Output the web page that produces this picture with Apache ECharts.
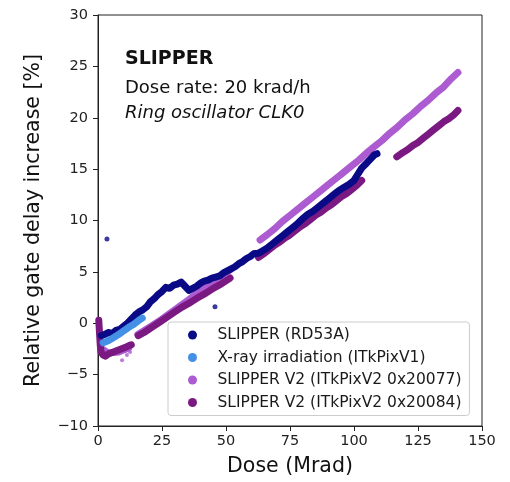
<!DOCTYPE html>
<html><head><meta charset="utf-8">
<script src="https://cdn.jsdelivr.net/npm/echarts@6/dist/echarts.min.js"></script>
<style>html,body{margin:0;padding:0;background:#fff}#c{width:510px;height:482px}</style>
</head><body><div id="c"></div>
<script>
// ---- data (dose in Mrad, relative gate delay increase in %) ----
const seriesNames = ['SLIPPER (RD53A)', 'X-ray irradiation (ITkPixV1)', 'SLIPPER V2 (ITkPixV2 0x20077)', 'SLIPPER V2 (ITkPixV2 0x20084)'];
const rd53a = [[1.3,-1.2],[2.5,-1.1],[4,-0.9],[5.5,-1.0],[7,-0.7],[8.5,-0.6],[10,-0.3],[11.5,0.0],[13,0.4],[14.5,0.8],[16,1.1],[17.5,1.3],[19,1.6],[20.5,2.1],[22,2.4],[23.5,2.8],[25,3.1],[26.5,3.5],[28,3.4],[29.5,3.7],[31,3.8],[32.5,4.0],[34,3.6],[35.5,3.2],[37,3.4],[38.5,3.6],[40,3.9],[41.5,4.1],[43,4.2],[44.5,4.4],[46,4.5],[47.5,4.6],[49,4.9],[50.5,5.1],[52,5.3],[53.5,5.5],[55,5.8],[56.5,6.0],[58,6.3],[59.5,6.5],[61,6.8],[62.5,6.8],[64,7.0],[66,7.3],[68,7.7],[70,8.1],[72,8.5],[74,8.9],[76,9.3],[78,9.7],[80,10.2],[82,10.6],[84,10.9],[86,11.3],[88,11.7],[90,12.1],[92,12.5],[94,12.9],[96,13.2],[98,13.5],[100,13.9],[101.5,14.5],[103,15.1],[105,15.6],[106.5,16.0],[108,16.4],[109,16.5]];
const rd53aOutliers = [[3.5,8.2],[45.7,1.6]];
const xray = [[2,-1.9],[4,-1.7],[6,-1.4],[8,-1.1],[10,-0.75],[12,-0.4],[14,-0.1],[16,0.3],[17.3,0.5]];
const v2x20077 = [[1,-2.4],[4,-2.9],[8,-2.8],[12,-2.4],null,[15.6,-1.1],[20,-0.4],[25,0.4],[30,1.3],[35,2.2],[40,3.2],[45,4.1],[48,4.6],[51.6,5.2],null,[63.3,8.1],[66,8.6],[69,9.2],[72,9.9],[75,10.5],[78,11.1],[81,11.7],[84,12.3],[87,12.9],[90,13.5],[93,14.1],[96,14.7],[99,15.3],[102,15.9],[105,16.6],[108,17.2],[111,17.8],[114,18.5],[117,19.1],[120,19.8],[123,20.4],[126,21.1],[129,21.7],[132,22.4],[135,23.0],[138,23.8],[140.6,24.4]];
const v2x20077Stray = [[9.4,-3.6],[11.3,-3.1],[12.5,-2.8]];
const v2x20084 = [[0.3,0.3],[0.6,-1.0],[0.9,-2.2],[1.2,-2.8],[2,-3.1],[3,-3.2],[4,-3.0],[5,-2.9],[6,-2.8],[7,-2.7],[8,-2.6],[9,-2.5],[10,-2.4],[11,-2.3],[12,-2.2],[13,-2.1],null,[15.7,-1.2],[18,-0.9],[21,-0.4],[24,0.1],[27,0.6],[30,1.1],[33,1.6],[36,2.0],[39,2.5],[42,2.9],[45,3.4],[48,3.8],[51.6,4.4],null,[62.7,6.4],[65,6.8],[67,7.2],[69,7.6],[71,7.9],[73,8.3],[75,8.6],[77,9.0],[79,9.4],[81,9.7],[83,10.1],[85,10.5],[87,10.8],[89,11.2],[91,11.5],[93,11.9],[95,12.3],[97,12.6],[99,13.0],[101,13.4],[103,13.9],null,[116.7,16.2],[119,16.6],[121,16.9],[123,17.3],[125,17.6],[127,18.0],[129,18.4],[131,18.8],[133,19.2],[135,19.6],[137,19.9],[139,20.3],[140.6,20.7]];
const xTicks = {min: 0, max: 150, step: 25};
const yTicks = {min: -10, max: 30, step: 5};
const textLines = ['SLIPPER', 'Dose rate: 20 krad/h', 'Ring oscillator CLK0'];

// ---- styling ----
const colors = ['#0a0a86', '#4490e6', '#ac5bd0', '#7a1982'];
const FONT = 'DejaVu Sans';

function segments(arr) {
  const out = []; let cur = [];
  arr.forEach(p => { if (p === null) { if (cur.length) out.push(cur); cur = []; } else cur.push(p); });
  if (cur.length) out.push(cur);
  return out;
}
function lineSeries(name, arr, color, z) {
  return segments(arr).map(seg => ({
    type: 'line', name, data: seg, symbol: 'none', z, silent: true,
    lineStyle: {width: 7, color, cap: 'round', join: 'round'},
    itemStyle: {color}
  }));
}
const series = [
  ...lineSeries(seriesNames[2], v2x20077, colors[2], 2),
  {type: 'scatter', name: seriesNames[2], data: v2x20077Stray, symbolSize: 4, itemStyle: {color: colors[2]}, z: 2, silent: true},
  ...lineSeries(seriesNames[3], v2x20084, colors[3], 3),
  ...lineSeries(seriesNames[0], rd53a, colors[0], 4),
  {type: 'scatter', name: seriesNames[0], data: rd53aOutliers, symbolSize: 5, itemStyle: {color: colors[0]}, z: 4, silent: true},
  ...lineSeries(seriesNames[1], xray, colors[1], 5)
];

const chart = echarts.init(document.getElementById('c'), null, {renderer: 'canvas'});
const fmtMinus = v => v < 0 ? '\u2212' + Math.abs(v) : String(v);
chart.setOption({
  animation: false,
  color: colors,
  textStyle: {fontFamily: FONT},
  grid: {left: 98, right: 28, top: 15, bottom: 56, show: true, borderColor: '#222', borderWidth: 1, backgroundColor: 'transparent'},
  xAxis: {
    type: 'value', min: xTicks.min, max: xTicks.max, interval: xTicks.step,
    name: 'Dose (Mrad)', nameLocation: 'middle', nameGap: 30,
    nameTextStyle: {fontSize: 20.5, color: '#111', fontFamily: FONT},
    axisLine: {show: true, onZero: false, lineStyle: {color: '#222', width: 1}},
    axisTick: {show: true, inside: false, length: 5, lineStyle: {color: '#222'}},
    axisLabel: {fontSize: 14.5, color: '#222', margin: 8, fontFamily: FONT},
    splitLine: {show: false}
  },
  yAxis: {
    type: 'value', min: yTicks.min, max: yTicks.max, interval: yTicks.step,
    name: 'Relative gate delay increase [%]', nameLocation: 'middle', nameGap: 54,
    nameTextStyle: {fontSize: 20.5, color: '#111', fontFamily: FONT},
    axisLine: {show: true, onZero: false, lineStyle: {color: '#222', width: 1}},
    axisTick: {show: true, inside: false, length: 5, lineStyle: {color: '#222'}},
    axisLabel: {fontSize: 14.5, color: '#222', margin: 10, formatter: fmtMinus, fontFamily: FONT},
    splitLine: {show: false}
  },
  legend: {
    data: seriesNames.map(n => ({name: n, icon: 'circle'})),
    orient: 'vertical', left: 168, top: 322,
    itemWidth: 40, itemHeight: 9, itemGap: 6.5,
    padding: [5, 8, 5, 20],
    backgroundColor: 'rgba(255,255,255,0.85)', borderColor: '#cccccc', borderWidth: 1, borderRadius: 3,
    textStyle: {fontSize: 15.5, color: '#1a1a1a', fontFamily: FONT},
    selectedMode: false
  },
  graphic: [
    {type: 'text', x: 125, y: 59, style: {text: textLines[0], font: 'bold 19px "DejaVu Sans"', fill: '#111', verticalAlign: 'middle'}},
    {type: 'text', x: 125, y: 88, style: {text: textLines[1], font: '18px "DejaVu Sans"', fill: '#111', verticalAlign: 'middle'}},
    {type: 'text', x: 125, y: 113, style: {text: textLines[2], font: 'italic 18px "DejaVu Sans"', fill: '#111', verticalAlign: 'middle'}}
  ],
  series
});
</script></body></html>
